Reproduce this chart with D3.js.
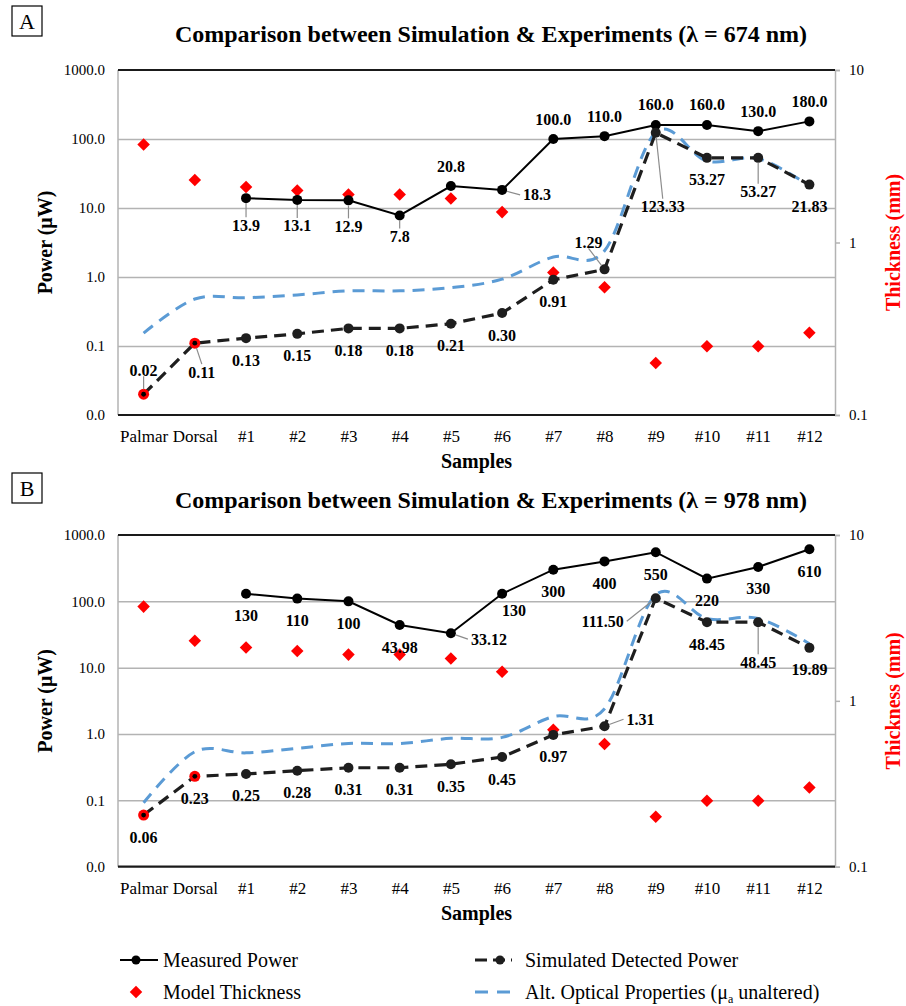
<!DOCTYPE html>
<html>
<head>
<meta charset="utf-8">
<script src="https://cdn.jsdelivr.net/npm/d3@7"></script>
<style>
  body { margin: 0; background: #fff; }
  svg text { font-family: "Liberation Serif", "Times New Roman", serif; }
</style>
</head>
<body>
<div id="chart"></div>
<script>
// Data
var SAMPLES = ["Palmar", "Dorsal", "#1", "#2", "#3", "#4", "#5", "#6", "#7", "#8", "#9", "#10", "#11", "#12"];
var HIGHLIGHTED = ["Palmar", "Dorsal"];

var MEASURED_A = [null, null, 13.9, 13.1, 12.9, 7.8, 20.8, 18.3, 100, 110, 160, 160, 130, 180];
var SIMULATED_A = [0.02, 0.11, 0.13, 0.15, 0.18, 0.18, 0.21, 0.30, 0.91, 1.29, 123.33, 53.27, 53.27, 21.83];
var ALT_A = [0.154, 0.48, 0.50, 0.55, 0.63, 0.63, 0.70, 0.93, 1.95, 2.4, 125, 48, 52, 21];

var MEASURED_B = [null, null, 130, 110, 100, 43.98, 33.12, 130, 300, 400, 550, 220, 330, 610];
var SIMULATED_B = [0.06, 0.23, 0.25, 0.28, 0.31, 0.31, 0.35, 0.45, 0.97, 1.31, 111.50, 48.45, 48.45, 19.89];
var ALT_B = [0.092, 0.54, 0.52, 0.61, 0.72, 0.72, 0.86, 0.89, 1.83, 2.4, 125, 55, 55, 23];

var THICKNESS = [3.7, 2.3, 2.1, 2.0, 1.9, 1.9, 1.8, 1.5, 0.67, 0.55, 0.20, 0.25, 0.25, 0.30];

var POWER_TICKS = [0.01, 0.1, 1, 10, 100, 1000];
var THICKNESS_TICKS = [0.1, 1, 10];

var LEGEND_LABELS = ["Measured Power", "Model Thickness", "Simulated Detected Power", "Alt. Optical Properties (μ", "a", " unaltered)"];

// Layout of data labels (offsets from point, px)
var LABELS_A = {
  measured: { dy: -20, special: {
    "#1": { dy: 27, leader: true }, "#2": { dy: 26, leader: true }, "#3": { dy: 26, leader: true },
    "#4": { dy: 21, leader: true }, "#6": { dx: 21, dy: 5, anchor: "start", leader: true } } },
  simulated: { dy: 22, special: {
    "Palmar": { dy: -24, leader: true }, "Dorsal": { dx: 7, dy: 29, leader: true },
    "#8": { dx: -16, dy: -27, leader: true }, "#9": { dx: 7, dy: 74, leader: true },
    "#11": { dy: 34, leader: true } } }
};
var LABELS_B = {
  measured: { dy: 22, special: {
    "#5": { dx: 20, dy: 6, anchor: "start", leader: true }, "#6": { dx: 12, dy: 17 } } },
  simulated: { dy: 22, special: {
    "#8": { dx: 22, dy: -7, anchor: "start", leader: true },
    "#9": { dx: -32, dy: 23, anchor: "end", leader: true },
    "#11": { dy: 40, leader: true } } }
};

var PANELS = [
  { letter: "A", wavelength: 674, top: 70, bottom: 415, boxY: 6, titleY: 42,
    measured: MEASURED_A, simulated: SIMULATED_A, alt: ALT_A, labels: LABELS_A,
    measuredFmt: d => d.toFixed(1) },
  { letter: "B", wavelength: 978, top: 535, bottom: 866.7, boxY: 473, titleY: 508,
    measured: MEASURED_B, simulated: SIMULATED_B, alt: ALT_B, labels: LABELS_B,
    measuredFmt: d => String(d) }
];

var WIDTH = 906, HEIGHT = 1006;
var PLOT_LEFT = 118, PLOT_RIGHT = 835;
var RED = "#ff0000", BLUE = "#5b9bd5", GRID = "#b3b3b3";

var svg = d3.select("#chart").append("svg")
  .attr("width", WIDTH).attr("height", HEIGHT);

var xScale = d3.scalePoint()
  .domain(SAMPLES)
  .range([PLOT_LEFT, PLOT_RIGHT])
  .padding(0.5);

var diamond = d3.symbol().type(d3.symbolDiamond2).size(100);

PANELS.forEach(function(p) {
  var g = svg.append("g").attr("class", "panel panel-" + p.letter);

  var yScale = d3.scaleLog().domain([0.01, 1000]).range([p.bottom, p.top]);
  var yRight = d3.scaleLog().domain([0.1, 10]).range([p.bottom, p.top]);

  // panel letter box
  g.append("rect")
    .attr("x", 12).attr("y", p.boxY).attr("width", 30).attr("height", 30)
    .attr("fill", "none").attr("stroke", "#000").attr("stroke-width", 1.2);
  g.append("text")
    .attr("x", 27).attr("y", p.boxY + 23)
    .attr("text-anchor", "middle").attr("font-size", 22)
    .text(p.letter);

  // title
  g.append("text")
    .attr("x", 491).attr("y", p.titleY)
    .attr("text-anchor", "middle").attr("font-size", 24).attr("font-weight", "bold")
    .text("Comparison between Simulation & Experiments (λ = " + p.wavelength + " nm)");

  // grid
  var grid = g.append("g").attr("class", "grid")
    .attr("transform", "translate(" + PLOT_LEFT + ",0)")
    .call(d3.axisLeft(yScale).tickValues(POWER_TICKS.slice(1, -1))
      .tickSize(-(PLOT_RIGHT - PLOT_LEFT)).tickFormat(""));
  grid.select(".domain").remove();
  grid.selectAll("line").attr("stroke", GRID).attr("stroke-width", 1.5);

  // left frame line
  g.append("line").attr("x1", PLOT_LEFT).attr("x2", PLOT_LEFT)
    .attr("y1", p.top).attr("y2", p.bottom).attr("stroke", GRID).attr("stroke-width", 1.5);

  // left axis labels
  var yAxis = g.append("g").attr("class", "y axis")
    .attr("transform", "translate(" + PLOT_LEFT + ",0)")
    .call(d3.axisLeft(yScale).tickValues(POWER_TICKS).tickSize(0).tickPadding(13)
      .tickFormat(d3.format(".1f")));
  yAxis.select(".domain").remove();
  yAxis.selectAll("text").attr("font-size", 15).attr("fill", "#000")
    .attr("font-family", "Liberation Serif");

  // right axis
  var rAxis = g.append("g").attr("class", "y2 axis")
    .attr("transform", "translate(" + PLOT_RIGHT + ",0)")
    .call(d3.axisRight(yRight).tickValues(THICKNESS_TICKS).tickSize(5).tickPadding(9)
      .tickFormat(d => String(d)));
  rAxis.select(".domain").attr("stroke", GRID).attr("stroke-width", 1.5);
  rAxis.selectAll("line").attr("stroke", GRID).attr("stroke-width", 1.5);
  rAxis.selectAll("text").attr("font-size", 15).attr("fill", "#000")
    .attr("font-family", "Liberation Serif");

  // top + bottom dark lines
  [p.top, p.bottom].forEach(function(y) {
    g.append("line").attr("x1", PLOT_LEFT).attr("x2", PLOT_RIGHT)
      .attr("y1", y).attr("y2", y).attr("stroke", "#1a1a1a").attr("stroke-width", 2.2);
  });

  // x axis labels
  var xAxis = g.append("g").attr("class", "x axis")
    .attr("transform", "translate(0," + p.bottom + ")")
    .call(d3.axisBottom(xScale).tickSize(0).tickPadding(15));
  xAxis.select(".domain").remove();
  xAxis.selectAll("text").attr("font-size", 17).attr("fill", "#000")
    .attr("font-family", "Liberation Serif");

  // axis titles
  g.append("text")
    .attr("transform", "translate(52," + (p.top + p.bottom) / 2 + ") rotate(-90)")
    .attr("text-anchor", "middle").attr("font-size", 20).attr("font-weight", "bold")
    .text("Power (μW)");
  g.append("text")
    .attr("transform", "translate(900," + (p.top + p.bottom) / 2 + ") rotate(-90)")
    .attr("text-anchor", "middle").attr("font-size", 20).attr("font-weight", "bold")
    .attr("fill", RED)
    .text("Thickness (mm)");
  g.append("text")
    .attr("x", (PLOT_LEFT + PLOT_RIGHT) / 2).attr("y", p.bottom + 53)
    .attr("text-anchor", "middle").attr("font-size", 20).attr("font-weight", "bold")
    .text("Samples");

  var rows = SAMPLES.map(function(s, i) {
    return { key: s, measured: p.measured[i], simulated: p.simulated[i], alt: p.alt[i], thickness: THICKNESS[i] };
  });

  // lines
  var altLine = d3.line()
    .x(d => xScale(d.key)).y(d => yScale(d.alt))
    .curve(d3.curveCardinal.tension(0));
  g.append("path").datum(rows)
    .attr("d", altLine).attr("fill", "none")
    .attr("stroke", BLUE).attr("stroke-width", 3).attr("stroke-dasharray", "12,8");

  var simLine = d3.line().x(d => xScale(d.key)).y(d => yScale(d.simulated));
  g.append("path").datum(rows)
    .attr("d", simLine).attr("fill", "none")
    .attr("stroke", "#1e1e1e").attr("stroke-width", 3.2).attr("stroke-dasharray", "12,7");

  var measLine = d3.line().defined(d => d.measured != null)
    .x(d => xScale(d.key)).y(d => yScale(d.measured));
  g.append("path").datum(rows)
    .attr("d", measLine).attr("fill", "none")
    .attr("stroke", "#000").attr("stroke-width", 2);

  // thickness diamonds
  g.append("g").selectAll("path")
    .data(rows).enter().append("path")
    .attr("d", diamond)
    .attr("transform", d => "translate(" + xScale(d.key) + "," + yRight(d.thickness) + ")")
    .attr("fill", RED);

  // markers
  g.append("g").selectAll("circle")
    .data(rows.filter(d => d.measured != null)).enter().append("circle")
    .attr("cx", d => xScale(d.key)).attr("cy", d => yScale(d.measured))
    .attr("r", 5).attr("fill", "#000");

  var simMarks = g.append("g").selectAll("g")
    .data(rows).enter().append("g")
    .attr("transform", d => "translate(" + xScale(d.key) + "," + yScale(d.simulated) + ")");
  simMarks.append("circle")
    .attr("r", d => HIGHLIGHTED.indexOf(d.key) >= 0 ? 5.5 : 5)
    .attr("fill", d => HIGHLIGHTED.indexOf(d.key) >= 0 ? RED : "#1e1e1e");
  simMarks.filter(d => HIGHLIGHTED.indexOf(d.key) >= 0).append("circle")
    .attr("r", 2.4).attr("fill", "#000");

  // data labels
  var labelGroup = g.append("g").attr("class", "value");
  function drawLabels(field, layout, fmt) {
    rows.forEach(function(d) {
      var v = d[field];
      if (v == null) return;
      var o = Object.assign({ dx: 0, dy: layout.dy, anchor: "middle", leader: false }, layout.special[d.key] || {});
      var px = xScale(d.key), py = yScale(v);
      var lx = px + o.dx, ly = py + o.dy;
      if (o.leader) {
        var ex, ey;
        if (o.anchor === "start") { ex = lx - 3; ey = ly; }
        else if (o.anchor === "end") { ex = lx + 3; ey = ly; }
        else { ex = lx; ey = o.dy > 0 ? ly - 8 : ly + 6; }
        var len = Math.hypot(ex - px, ey - py);
        var sx = px + (ex - px) / len * 5, sy = py + (ey - py) / len * 5;
        labelGroup.append("line")
          .attr("x1", sx).attr("y1", sy).attr("x2", ex).attr("y2", ey)
          .attr("stroke", "#8c8c8c").attr("stroke-width", 1.2);
      }
      labelGroup.append("text")
        .attr("x", lx).attr("y", ly + 5.5)
        .attr("text-anchor", o.anchor)
        .attr("font-size", 16).attr("font-weight", "bold")
        .text(fmt(v));
    });
  }
  drawLabels("measured", p.labels.measured, p.measuredFmt);
  drawLabels("simulated", p.labels.simulated, d => d.toFixed(2));
});

// Legend
var legend = svg.append("g").attr("class", "legend");
var lg1 = legend.append("g");
lg1.append("line").attr("x1", 120).attr("x2", 158).attr("y1", 960).attr("y2", 960)
  .attr("stroke", "#000").attr("stroke-width", 2);
lg1.append("circle").attr("cx", 136).attr("cy", 960).attr("r", 4.5).attr("fill", "#000");
lg1.append("text").attr("x", 163).attr("y", 967).attr("font-size", 20).text(LEGEND_LABELS[0]);

var lg2 = legend.append("g");
lg2.append("path").attr("d", diamond).attr("transform", "translate(136,992)").attr("fill", RED);
lg2.append("text").attr("x", 163).attr("y", 999).attr("font-size", 20).text(LEGEND_LABELS[1]);

var lg3 = legend.append("g");
lg3.append("line").attr("x1", 475).attr("x2", 512).attr("y1", 960).attr("y2", 960)
  .attr("stroke", "#1e1e1e").attr("stroke-width", 3.2).attr("stroke-dasharray", "12,6");
lg3.append("circle").attr("cx", 500).attr("cy", 960).attr("r", 4.5).attr("fill", "#1e1e1e");
lg3.append("text").attr("x", 525).attr("y", 967).attr("font-size", 20).text(LEGEND_LABELS[2]);

var lg4 = legend.append("g");
lg4.append("line").attr("x1", 475).attr("x2", 512).attr("y1", 992).attr("y2", 992)
  .attr("stroke", BLUE).attr("stroke-width", 3).attr("stroke-dasharray", "13,9");
var t4 = lg4.append("text").attr("x", 525).attr("y", 999).attr("font-size", 20);
t4.append("tspan").text(LEGEND_LABELS[3]);
t4.append("tspan").attr("font-size", 12).attr("dy", 4).text(LEGEND_LABELS[4]);
t4.append("tspan").attr("dy", -4).text(LEGEND_LABELS[5]);
</script>
</body>
</html>
